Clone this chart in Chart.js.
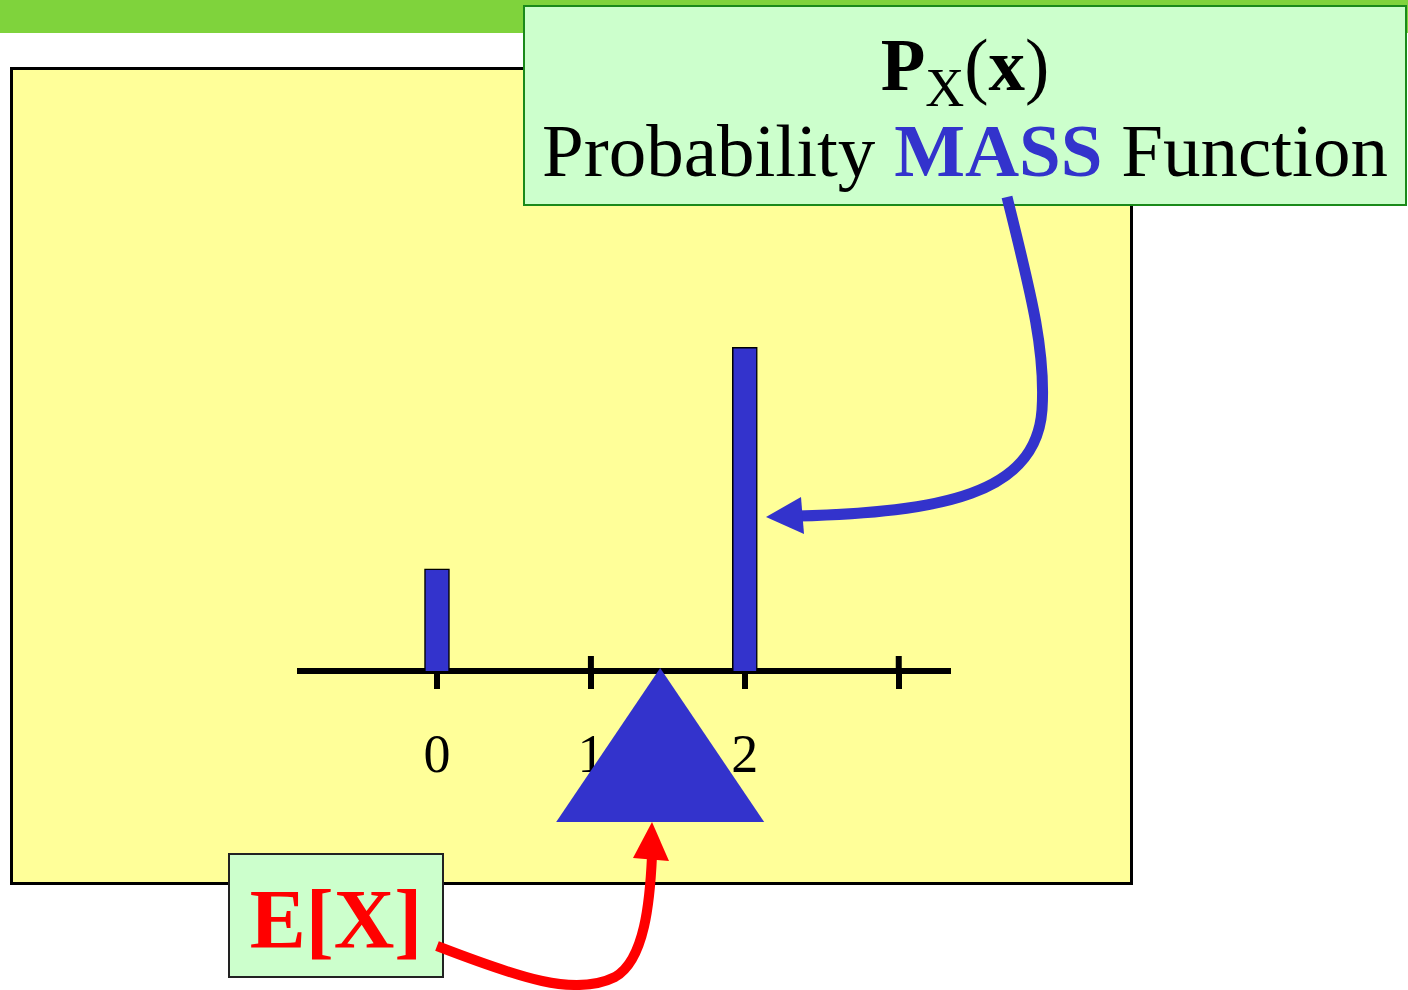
<!DOCTYPE html>
<html>
<head>
<meta charset="utf-8">
<script src="https://cdn.jsdelivr.net/npm/chart.js@4"></script>
<style>
  body { margin: 0; width: 1408px; height: 990px; position: relative; overflow: hidden; background: #fff; font-family: "Liberation Serif", serif; }
  #barra { position: absolute; left: 0; top: 0; width: 1408px; height: 33px; background: #7fd33c; }
  #panel { position: absolute; left: 10px; top: 67px; width: 1123px; height: 818px; box-sizing: border-box; border: 3px solid #000; background: #ffff99; }
  #grafico { position: absolute; left: 0; top: 0; }
  #rotulo { position: absolute; left: 523px; top: 5px; width: 884px; height: 201px; box-sizing: border-box; border: 2px solid #1a8a1a; background: #ccffcc; }
  #rotulo .l1 { position: absolute; left: 0; right: 0; top: 22px; text-align: center; font-size: 73px; line-height: 73px; font-weight: bold; }
  #rotulo .l1 sub { font-size: 54px; font-weight: normal; vertical-align: -16px; line-height: 0; }
  #rotulo .l1 .par { font-weight: normal; }
  #rotulo .l2 { position: absolute; left: 0; right: 0; top: 106px; text-align: center; font-size: 75px; line-height: 75px; white-space: nowrap; }
  #rotulo .l2 b { color: #3333cc; }
  #esperanza { position: absolute; left: 228px; top: 853px; width: 216px; height: 125px; box-sizing: border-box; border: 2px solid #222; background: #ccffcc; }
  #esperanza span { position: absolute; left: 0; right: 0; top: 23px; text-align: center; font-size: 84px; line-height: 84px; font-weight: bold; color: #ff0000; }
  #flechas { position: absolute; left: 0; top: 0; }
</style>
</head>
<body>
<div id="barra"></div>
<div id="panel"></div>
<canvas id="grafico" width="1408" height="990"></canvas>
<div id="rotulo">
  <div class="l1">P<sub>X</sub><span class="par">(</span>x<span class="par">)</span></div>
  <div class="l2">Probability <b>MASS</b> Function</div>
</div>
<div id="esperanza"><span>E[X]</span></div>
<svg id="flechas" width="1408" height="990">
  <path d="M1007,197 C1030,290 1046,350 1042,410 C1036,495 940,512 798,516" fill="none" stroke="#3333cc" stroke-width="11"/>
  <polygon points="766,517 801,497 804,534" fill="#3333cc"/>
  <path d="M437,946 C520,978 575,997 615,977 C645,960 650,900 652,856" fill="none" stroke="#ff0000" stroke-width="10"/>
  <polygon points="652,822 633,858 669,861" fill="#ff0000"/>
</svg>

<script>
const valoresX = [0, 1, 2, 3];
const probabilidades = [0.24, null, 0.76, null];
const etiquetasX = ['0', '1', '2', ''];
const esperanzaX = 1.45; // donde se apoya el triangulo

const lienzo = document.getElementById('grafico');

const marcasPlugin = {
  id: 'marcas',
  beforeDatasetsDraw(chart) {
    const { ctx, scales: { x, y } } = chart;
    const y0 = y.getPixelForValue(0);
    ctx.save();
    ctx.strokeStyle = '#000';
    ctx.lineWidth = 6;
    valoresX.forEach(v => {
      const px = x.getPixelForValue(v);
      ctx.beginPath();
      ctx.moveTo(px, y0 - 15);
      ctx.lineTo(px, y0 + 2);
      ctx.stroke();
    });
    ctx.restore();
  },
  afterDraw(chart) {
    // el fulcro en E[X]
    const { ctx, scales: { x, y } } = chart;
    const px = x.getPixelForValue(esperanzaX);
    const y0 = y.getPixelForValue(0);
    ctx.save();
    ctx.fillStyle = '#3333cc';
    ctx.beginPath();
    ctx.moveTo(px, y0 - 3);
    ctx.lineTo(px + 104, y0 + 151);
    ctx.lineTo(px - 104, y0 + 151);
    ctx.closePath();
    ctx.fill();
    ctx.restore();
  }
};

new Chart(lienzo, {
  type: 'bar',
  data: {
    datasets: [{
      data: valoresX.map((v, i) => ({ x: v, y: probabilidades[i] })),
      backgroundColor: '#3333cc',
      borderColor: '#000',
      borderWidth: 1.5,
      barThickness: 25
    }]
  },
  options: {
    responsive: false,
    animation: false,
    layout: { padding: { left: 300, right: 460, top: 245, bottom: 199 } },
    plugins: { legend: { display: false }, tooltip: { enabled: false } },
    scales: {
      x: {
        type: 'linear',
        position: 'bottom',
        min: -0.89,
        max: 3.32,
        offset: false,
        afterBuildTicks: s => { s.ticks = valoresX.map(v => ({ value: v })); },
        afterFit: s => { s.height = 120; },
        border: { display: true, color: '#000', width: 6 },
        grid: { offset: false, drawOnChartArea: false, drawTicks: true, tickLength: 18, tickWidth: 6, tickColor: '#000', color: '#000', lineWidth: 6 },
        ticks: {
          padding: 36,
          color: '#000',
          autoSkip: false,
          maxRotation: 0,
          font: { family: 'Liberation Serif', size: 54 },
          callback: (v, i) => etiquetasX[i]
        }
      },
      y: { display: false, min: 0, max: 1 }
    }
  },
  plugins: [marcasPlugin]
});
</script>
</body>
</html>
